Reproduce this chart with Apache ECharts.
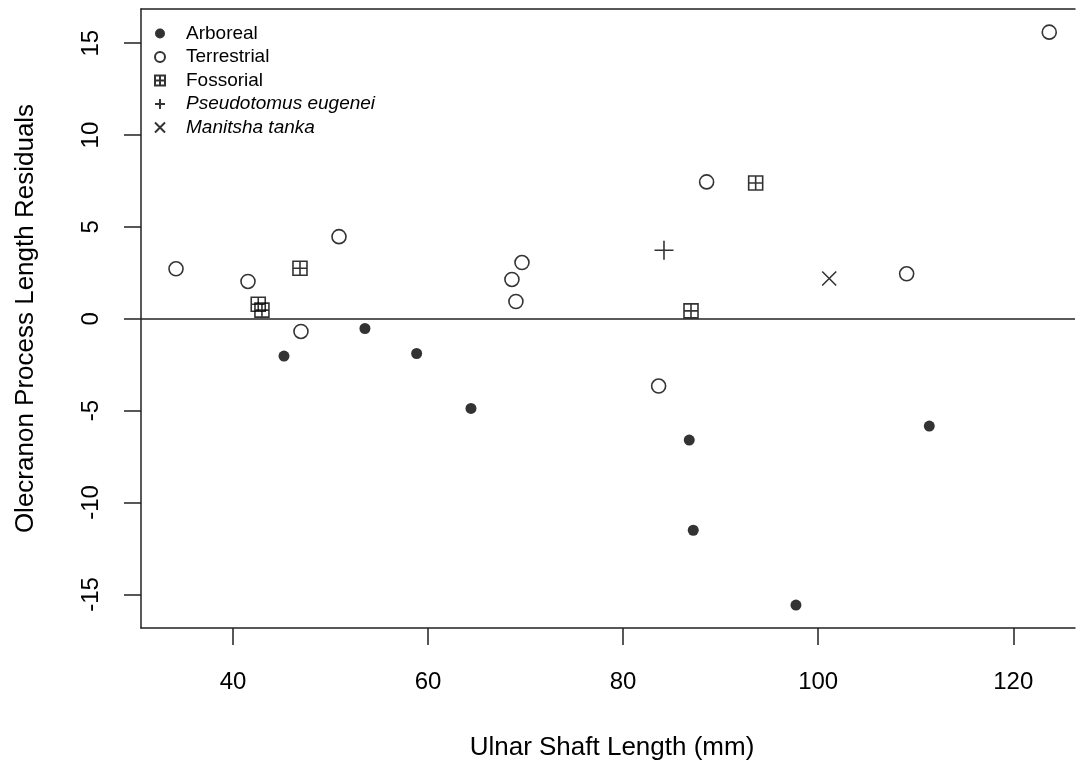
<!DOCTYPE html>
<html>
<head>
<meta charset="utf-8">
<script src="https://cdn.jsdelivr.net/npm/echarts@6/dist/echarts.min.js"></script>
<style>
html,body{margin:0;padding:0;background:#fff;}
#chart{width:1076px;height:766px;}
</style>
</head>
<body>
<div id="chart"></div>
<script>
// ---- Data ----
const arborealX = [45.23, 53.53, 58.83, 64.40, 86.78, 87.19, 97.72, 111.39];
const arborealY = [-2.03, -0.53, -1.89, -4.88, -6.60, -11.51, -15.58, -5.84];

const terrestrialX = [34.16, 41.54, 46.97, 50.87, 68.60, 69.01, 69.63, 83.64, 88.56, 109.07, 123.69];
const terrestrialY = [2.72, 2.03, -0.69, 4.47, 2.14, 0.94, 3.06, -3.66, 7.45, 2.45, 15.60];

const fossorialX = [46.87, 42.59, 42.97, 86.96, 93.59];
const fossorialY = [2.75, 0.79, 0.47, 0.43, 7.39];

const pseudotomusX = [84.19];
const pseudotomusY = [3.73];

const manitshaX = [101.13];
const manitshaY = [2.19];

const seriesNames = ['Arboreal', 'Terrestrial', 'Fossorial', 'Pseudotomus eugenei', 'Manitsha tanka'];
const italicNames = ['Pseudotomus eugenei', 'Manitsha tanka'];

const xTicks = [40, 60, 80, 100, 120];
const yTicks = [-15, -10, -5, 0, 5, 10, 15];

const xTitle = 'Ulnar Shaft Length (mm)';
const yTitle = 'Olecranon Process Length Residuals';

// ---- helpers ----
function pairs(xs, ys) { return xs.map((x, i) => [x, ys[i]]); }

const FONT = '"Liberation Sans", Arial, Helvetica, sans-serif';
const INK = '#000';
const LINE = '#222';

const squarePlus = 'path://M0,0 L10,0 L10,10 L0,10 Z M5,0 L5,10 M0,5 L10,5';
const plusPath = 'path://M5,0 L5,10 M0,5 L10,5';
const crossPath = 'path://M0,0 L10,10 M10,0 L0,10';

const X_MIN = 30.57, X_MAX = 126.33;
const Y_MIN = -16.83, Y_MAX = 16.86;

const chart = echarts.init(document.getElementById('chart'), null, {renderer: 'canvas'});

const option = {
  backgroundColor: '#fff',
  animation: false,
  textStyle: { fontFamily: FONT, color: INK },
  grid: {
    left: 141, top: 9, width: 934, height: 620, show: false
  },
  legend: {
    orient: 'vertical',
    left: 149, top: 19,
    itemGap: 4.5,
    itemWidth: 42, itemHeight: 10,
    textStyle: { fontFamily: FONT, fontSize: 19, color: INK,
      rich: { it: { fontStyle: 'italic', fontFamily: FONT, fontSize: 19, color: INK } } },
    formatter: function (name) {
      return italicNames.indexOf(name) >= 0 ? '{it|' + name + '}' : name;
    },
    data: seriesNames.map(n => ({ name: n }))
  },
  xAxis: [{
    type: 'value',
    min: X_MIN, max: X_MAX,
    name: xTitle, nameLocation: 'middle', nameGap: 107,
    nameTextStyle: { fontFamily: FONT, fontSize: 26, color: INK, padding: [0, 0, 0, 8] },
    splitLine: { show: false },
    axisLine: { show: true, onZero: false, lineStyle: { color: LINE, width: 1.5 } },
    axisTick: { show: true, inside: false, length: 17, customValues: xTicks,
      lineStyle: { color: LINE, width: 1.5 } },
    axisLabel: { customValues: xTicks, margin: 42, fontSize: 24, color: INK, fontFamily: FONT }
  }, {
    type: 'value', position: 'top',
    min: X_MIN, max: X_MAX,
    splitLine: { show: false },
    axisLine: { show: true, onZero: false, lineStyle: { color: LINE, width: 1.5 } },
    axisTick: { show: false },
    axisLabel: { show: false }
  }],
  yAxis: {
    type: 'value',
    min: Y_MIN, max: Y_MAX,
    name: yTitle, nameLocation: 'middle', nameGap: 102,
    nameTextStyle: { fontFamily: FONT, fontSize: 26, color: INK },
    splitLine: { show: false },
    axisLine: { show: true, onZero: false, lineStyle: { color: LINE, width: 1.5 } },
    axisTick: { show: true, inside: false, length: 17, customValues: yTicks,
      lineStyle: { color: LINE, width: 1.5 } },
    axisLabel: { customValues: yTicks, margin: 38, rotate: 90, fontSize: 24, color: INK, fontFamily: FONT }
  },
  series: [
    {
      name: 'Arboreal', type: 'scatter', symbol: 'circle', symbolSize: 11,
      itemStyle: { color: '#000' },
      data: pairs(arborealX, arborealY),
      markLine: {
        silent: true, symbol: ['none', 'none'], label: { show: false },
        lineStyle: { color: LINE, width: 1.5, type: 'solid' },
        data: [{ yAxis: 0 }]
      },
      z: 3
    },
    {
      name: 'Terrestrial', type: 'scatter', symbol: 'circle', symbolSize: 14,
      itemStyle: { color: '#fff', borderColor: '#000', borderWidth: 1.6 },
      data: pairs(terrestrialX, terrestrialY)
    },
    {
      name: 'Fossorial', type: 'scatter', symbol: squarePlus, symbolSize: 14,
      itemStyle: { color: 'rgba(0,0,0,0)', borderColor: '#000', borderWidth: 1.6 },
      data: pairs(fossorialX, fossorialY)
    },
    {
      name: 'Pseudotomus eugenei', type: 'scatter', symbol: plusPath, symbolSize: 19,
      itemStyle: { color: 'rgba(0,0,0,0)', borderColor: '#000', borderWidth: 1.6 },
      data: pairs(pseudotomusX, pseudotomusY)
    },
    {
      name: 'Manitsha tanka', type: 'scatter', symbol: crossPath, symbolSize: 14,
      itemStyle: { color: 'rgba(0,0,0,0)', borderColor: '#000', borderWidth: 1.6 },
      data: pairs(manitshaX, manitshaY)
    }
  ]
};

chart.setOption(option);
</script>
</body>
</html>
